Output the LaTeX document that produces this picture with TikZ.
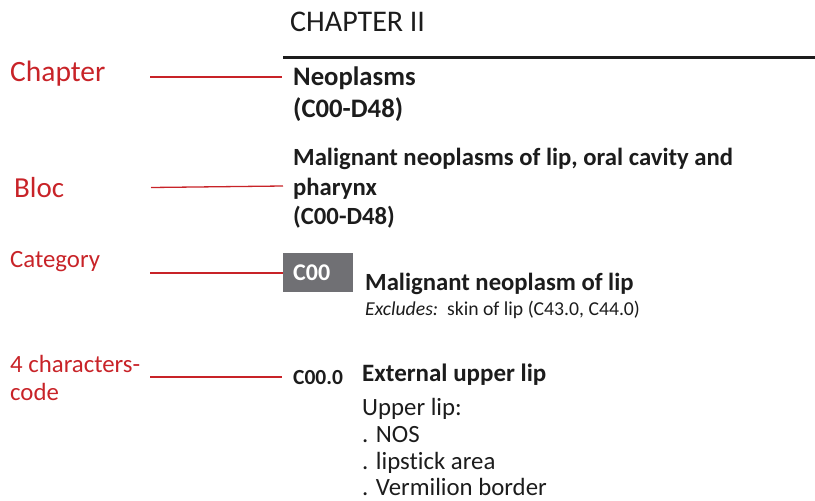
\documentclass[tikz,border=0pt]{standalone}
\usepackage{fontspec}
\setmainfont{Carlito}[Ligatures=NoCommon]
\usetikzlibrary{positioning}
\definecolor{labelred}{RGB}{200,35,40}
\definecolor{boxgray}{RGB}{112,112,116}
\definecolor{inkblack}{RGB}{28,28,28}

\begin{document}
\begin{tikzpicture}[x=1pt,y=-1pt,line join=round,
  lbl/.style={text=labelred,anchor=base west,inner sep=0pt},
  entry/.style={text=inkblack,anchor=base west,inner sep=0pt},
  leader/.style={draw=labelred,line width=1.3pt}]
\useasboundingbox (0,0) rectangle (815,501);

%% ---------------- right column: the printed classification ----------------
\node[entry,font=\fontsize{30}{34}\selectfont] (chapno) at (290,31) {CHAPTER II};
\coordinate (ruleL) at (283,57);
\coordinate (ruleR) at (815,57);
\draw[inkblack,line width=3pt] (ruleL) -- (ruleR);

\node[entry,font=\bfseries\fontsize{26.7}{30}\selectfont] (neo) at (293,85) {Neoplasms};
\node[entry,font=\bfseries\fontsize{26.7}{30}\selectfont] (neocode) at (293,117) {(C00-D48)};

\node[entry,font=\bfseries\fontsize{24.7}{30}\selectfont] (blocA) at (293,165) {Malignant neoplasms of lip, oral cavity and};
\node[entry,font=\bfseries\fontsize{24.7}{30}\selectfont] (blocB) at (293,195) {pharynx};
\node[entry,font=\bfseries\fontsize{24.7}{30}\selectfont] (blocC) at (293,224) {(C00-D48)};

%% category code in a grey box
\node[fill=boxgray,text=white,font=\bfseries\fontsize{24}{28}\selectfont,
      text width=50pt,align=left,inner xsep=10pt,inner ysep=0pt,
      minimum height=39pt,anchor=north west]
      (c00) at (283,253) {C00};
\node[entry,font=\bfseries\fontsize{24.7}{28}\selectfont] (cattitle) at (365,290) {Malignant neoplasm of lip};
\node[entry,font=\fontsize{19.7}{22}\selectfont] (excl) at (365,315) {\textit{Excludes:}\ \ skin of lip (C43.0, C44.0)};

%% four character subcategory
\node[entry,font=\bfseries\fontsize{21.5}{24}\selectfont] (c000) at (293,384) {C00.0};
\node[entry,font=\bfseries\fontsize{25}{28}\selectfont] (ext) at (362,381) {External upper lip};
\node[entry,font=\fontsize{24.8}{28}\selectfont] (incA) at (362,415) {Upper lip:};
\node[entry,font=\fontsize{24.8}{28}\selectfont] (incB) at (362,442) {. NOS};
\node[entry,font=\fontsize{24.8}{28}\selectfont] (incC) at (362,469) {. lipstick area};
\node[entry,font=\fontsize{24.8}{28}\selectfont] (incD) at (362,495) {. Vermilion border};

%% ---------------- left column: the level names ----------------
\node[lbl,font=\fontsize{29.5}{33}\selectfont] (lchap) at (10,81) {Chapter};
\node[lbl,font=\fontsize{29}{33}\selectfont] (lbloc) at (14,197) {Bloc};
\node[lbl,font=\fontsize{24.8}{28}\selectfont] (lcat) at (10,267) {Category};
\node[lbl,font=\fontsize{24.8}{28}\selectfont] (lfourA) at (10,372) {4 characters-};
\node[lbl,font=\fontsize{24.8}{28}\selectfont] (lfourB) at (10,400) {code};

%% leaders from the names to the entries
\coordinate (chapfrom) at (150,77);
\coordinate (blocfrom) at (151,187.5);
\coordinate (catfrom)  at (150,273);
\coordinate (fourfrom) at (150,377);
\draw[leader] (chapfrom) -- ([xshift=-11pt]chapfrom -| neo.west);
\draw[leader] (blocfrom) -- ([xshift=-10pt,yshift=1.5pt]blocfrom -| blocB.west);
\draw[leader] (catfrom)  -- (catfrom -| c00.west);
\draw[leader] (fourfrom) -- ([xshift=-11pt]fourfrom -| c000.west);

\end{tikzpicture}
\end{document}
